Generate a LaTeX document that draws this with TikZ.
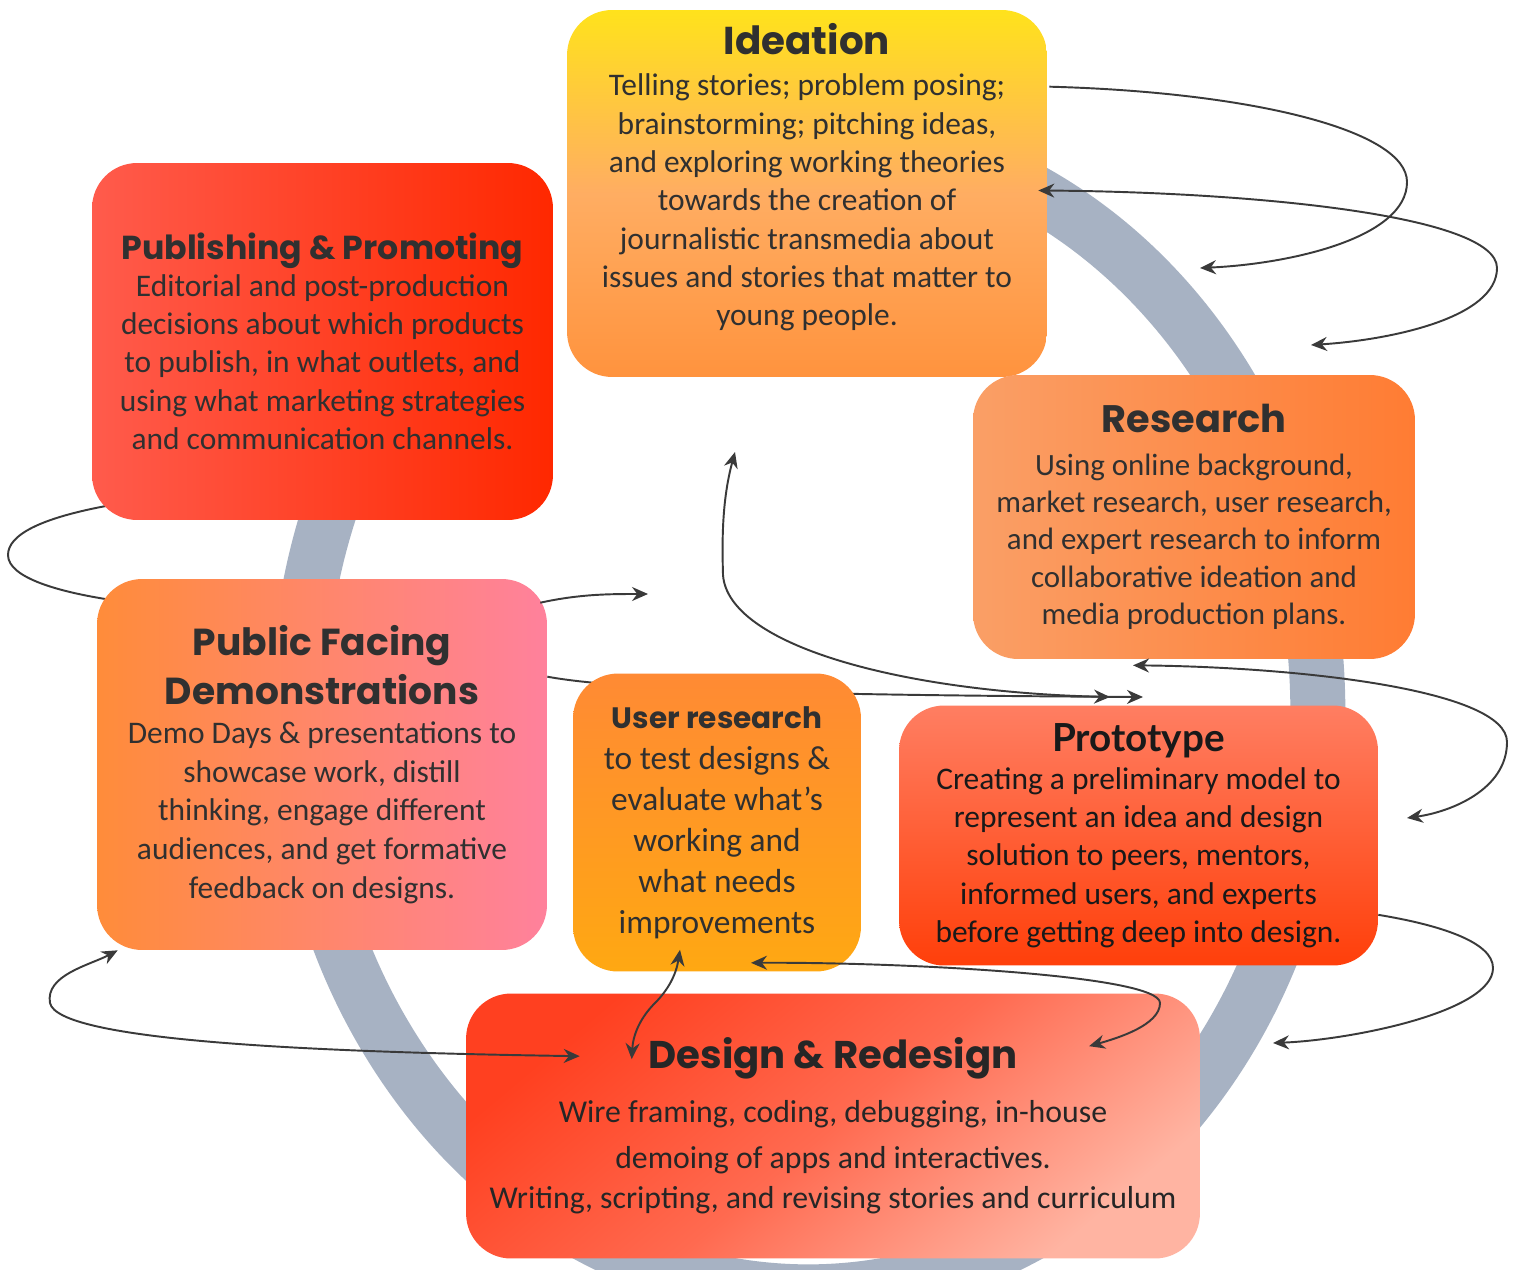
\documentclass[tikz,border=0pt]{standalone}
\usepackage{fontspec}
\setmainfont{Carlito}
\newfontfamily\headfont{Poppins}
\newfontfamily\protofont{Lato}
\usetikzlibrary{arrows.meta,calc}

\definecolor{ringgray}{HTML}{A7B2C3}
\definecolor{linkgray}{HTML}{3A3A3A}
\definecolor{txtgray}{HTML}{303030}
\definecolor{ideaTop}{HTML}{FFE21C}
\definecolor{ideaMid}{HTML}{FFAD62}
\definecolor{ideaBot}{HTML}{FF933E}
\definecolor{pubL}{HTML}{FF5B4C}
\definecolor{pubR}{HTML}{FF2800}
\definecolor{resL}{HTML}{FA9F66}
\definecolor{resR}{HTML}{FF7C33}
\definecolor{pfdL}{HTML}{FF8C3A}
\definecolor{pfdR}{HTML}{FF819C}
\definecolor{usrTop}{HTML}{FF8A34}
\definecolor{usrBot}{HTML}{FFA812}
\definecolor{protoTop}{HTML}{FF7E62}
\definecolor{protoBot}{HTML}{FF3F0A}
\definecolor{desA}{HTML}{FF4020}
\definecolor{desM}{HTML}{FF6A50}
\definecolor{desB}{HTML}{FFB4A2}

\newcommand{\stagetitle}[2]{{\headfont\bfseries\fontsize{#1}{#1}\selectfont #2}}

\pgfdeclarelayer{back}
\pgfsetlayers{back,main}

\tikzset{
  stage/.style={rounded corners=0.9cm,align=center,inner sep=0pt,text=txtgray,font=\fontsize{17.9}{21.8}\selectfont},
  ring/.style={draw=ringgray,line width=1.1cm},
  link/.style={draw=linkgray,line width=1.1pt,>={Stealth[length=3.2mm,width=2.8mm]}}
}

\begin{document}
\begin{tikzpicture}[x=0.02cm,y=-0.02cm]
\useasboundingbox (0,0) rectangle (1517,1270);

% free ends of the loops
\coordinate (t1) at (1200,268);
\coordinate (t2) at (1311,345);
\coordinate (t4) at (648,594);
\coordinate (t5) at (735,452);
\coordinate (t5b) at (1110,697);
\coordinate (t6) at (1143,697);
\coordinate (t7) at (1407,818);
\coordinate (t8) at (1273,1043);

% stages
\node[stage,minimum width=9.6cm,minimum height=7.34cm,top color=ideaTop,bottom color=ideaBot,middle color=ideaMid] (idea) at (807,193.5) {};
\node[stage] (ideaText) at (807,177) {\stagetitle{22.1}{Ideation}\\[2pt]
  Telling stories; problem posing;\\ brainstorming; pitching ideas,\\ and exploring working theories\\
  towards the creation of\\ journalistic transmedia about\\ issues and stories that matter to\\ young people.};

\node[stage,minimum width=9.22cm,minimum height=7.14cm,left color=pubL,right color=pubR] (pub) at (322.5,341.5)
  {\stagetitle{18.9}{Publishing \& Promoting}\\[-1pt]
  Editorial and post-production\\ decisions about which products\\ to publish, in what outlets, and\\
  using what marketing strategies\\ and communication channels.};

\node[stage,minimum width=8.84cm,minimum height=5.68cm,left color=resL,right color=resR,
  font=\fontsize{17.6}{21.2}\selectfont] (res) at (1194,517)
  {\stagetitle{21.8}{Research}\\[3pt]
  Using online background,\\ market research, user research,\\ and expert research to inform\\
  collaborative ideation and\\ media production plans.};

\node[stage,minimum width=9cm,minimum height=7.42cm,left color=pfdL,right color=pfdR,
  font=\fontsize{17.9}{22.1}\selectfont] (pfd) at (322,764.5)
  {\stagetitle{21.4}{Public Facing}\\[4pt]\stagetitle{21.4}{Demonstrations}\\
  Demo Days \& presentations to\\ showcase work, distill\\ thinking, engage different\\
  audiences, and get formative\\ feedback on designs.};

\node[stage,minimum width=5.76cm,minimum height=5.96cm,top color=usrTop,bottom color=usrBot,
  font=\fontsize{19}{23.3}\selectfont] (usr) at (717,822.5)
  {\stagetitle{16.8}{User research}\\
  to test designs \&\\ evaluate what’s\\ working and\\ what needs\\ improvements};

\node[stage,minimum width=9.58cm,minimum height=5.2cm,top color=protoTop,bottom color=protoBot,
  text=black!90] (proto) at (1138.5,835.5)
  {{\protofont\bfseries\fontsize{22}{22}\selectfont Prototype}\\
  Creating a preliminary model to\\ represent an idea and design\\ solution to peers, mentors,\\
  informed users, and experts\\ before getting deep into design.};

\node[stage,minimum width=14.68cm,minimum height=5.3cm,top color=desA,bottom color=desB,middle color=desM,
  shading angle=40,text=black!85,font=\fontsize{18.1}{21.8}\selectfont] (design) at (833,1126)
  {\stagetitle{22}{Design \& Redesign}\\[9pt]
  Wire framing, coding, debugging, in-house\\[4pt] demoing of apps and interactives.\\[1.5pt]
  Writing, scripting, and revising stories and curriculum};

% ring and the links running behind the stages
\begin{pgfonlayer}{back}
\fill[white] (0,0) rectangle (1517,1270);
\draw[ring] (494,255) arc[start angle=128,end angle=475,x radius=10.2cm,y radius=11.6cm];
\draw[link] ($(pub.south west)+(18,-15)$) .. controls (40,518) and (8,535) .. (8,555)
  .. controls (8,578) and (60,592) .. ($(pfd.north west)+(13,21)$);
\draw[link,->] ($(pfd.north east)+(0,98)$) .. controls (620,690) and (800,695) .. (t6);
\end{pgfonlayer}

% links
\draw[link,->] ($(idea.north east)+(2,77)$) .. controls (1250,92) and (1407,130) .. (1407,182)
  .. controls (1407,238) and (1290,264) .. (t1);
\draw[link,<->] ($(idea.east)+(-9,-3)$) .. controls (1250,192) and (1497,215) .. (1497,268)
  .. controls (1497,318) and (1390,340) .. (t2);
\draw[link,->] ($(pfd.north east)+(-7,24)$) .. controls (580,594) and (610,594) .. (t4);
\draw[link,<->] (t5) .. controls (722,500) and (722,540) .. (723,575)
  .. controls (728,645) and (900,692) .. (t5b);
\draw[link,<->] ($(res.south)+(-61,6)$) .. controls (1300,667) and (1507,690) .. (1507,742)
  .. controls (1507,790) and (1450,812) .. (t7);
\draw[link,->] ($(proto.south east)+(0,-51)$) .. controls (1440,925) and (1493,942) .. (1493,968)
  .. controls (1493,1012) and (1350,1040) .. (t8);
\draw[link,<->] ($(usr.south)+(34,-9)$) .. controls (900,962) and (1160,975) .. (1160,1003)
  .. controls (1160,1025) and (1118,1038) .. ($(design.north)+(256,53)$);
\draw[link,<->] ($(usr.south)+(-37,-22)$) .. controls (676,975) and (668,990) .. (655,1003)
  .. controls (640,1018) and (633,1035) .. ($(design.north west)+(166,66)$);
\draw[link,<->] ($(pfd.south west)+(21,0)$) .. controls (90,965) and (45,975) .. (50,1003)
  .. controls (58,1040) and (300,1052) .. ($(design.north west)+(114,63)$);
\end{tikzpicture}
\end{document}
